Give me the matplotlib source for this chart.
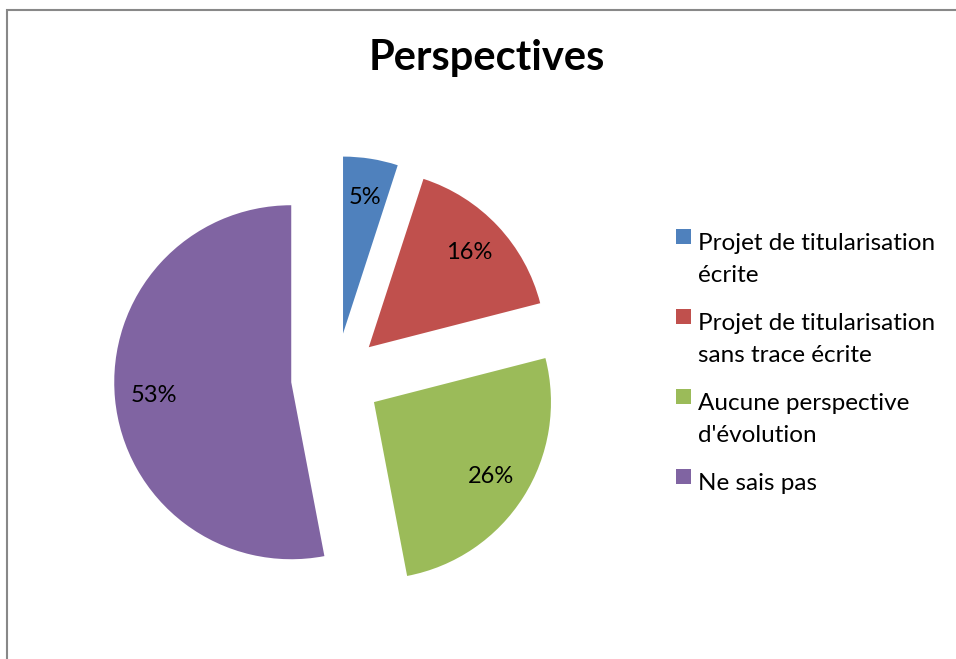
import matplotlib
matplotlib.use("Agg")
import matplotlib.pyplot as plt
from matplotlib.patches import Rectangle

labels = ["Projet de titularisation\nécrite",
          "Projet de titularisation\nsans trace écrite",
          "Aucune perspective\nd'évolution",
          "Ne sais pas"]
values = [5, 16, 26, 53]
colors = ["#4F81BD", "#C0504D", "#9BBB59", "#8064A2"]
title = "Perspectives"

plt.rcParams['font.family'] = ['Lato', 'DejaVu Sans']

W, H = 956, 659
fig = plt.figure(figsize=(W / 100, H / 100), dpi=100)

def px(x, y):
    # pixel coords (from top-left) -> figure fraction
    return x / W, 1 - y / H

# pie axes: centre (336, 378) px, radius 177 px
R = 177
L = 1.3
side = 2 * L * R
cx, cy = 336, 378
ax = fig.add_axes([(cx - side / 2) / W, (H - cy - side / 2) / H, side / W, side / H])

wedges, texts, autotexts = ax.pie(values, colors=colors, startangle=90, counterclock=False,
                                  explode=[0.254] * len(values), autopct='%.0f%%',
                                  pctdistance=0.78, radius=1,
                                  textprops={'fontsize': 17, 'color': 'black'})
ax.set_xlim(-L, L)
ax.set_ylim(-L, L)
ax.axis('off')

fig.text(*px(487, 70), title, ha='center', va='baseline', fontsize=30, fontweight='bold')

# legend drawn by hand so the marker aligns with the first line
base = 250
for i, (lab, col) in enumerate(zip(labels, colors)):
    fig.patches.append(Rectangle(px(676, base - 6), 15 / W, 15 / H,
                                 transform=fig.transFigure, facecolor=col, edgecolor='none'))
    for j, line in enumerate(lab.split("\n")):
        fig.text(*px(698, base + 32 * j), line, ha='left', va='baseline', fontsize=17.5)
    base += 80

# chart border (only top and left visible)
fig.patches.append(Rectangle(px(7, H + 20), (W + 20) / W, (H + 10) / H,
                             transform=fig.transFigure, facecolor='none',
                             edgecolor='#888888', linewidth=1.5))

fig.savefig("out.png", dpi=100)
